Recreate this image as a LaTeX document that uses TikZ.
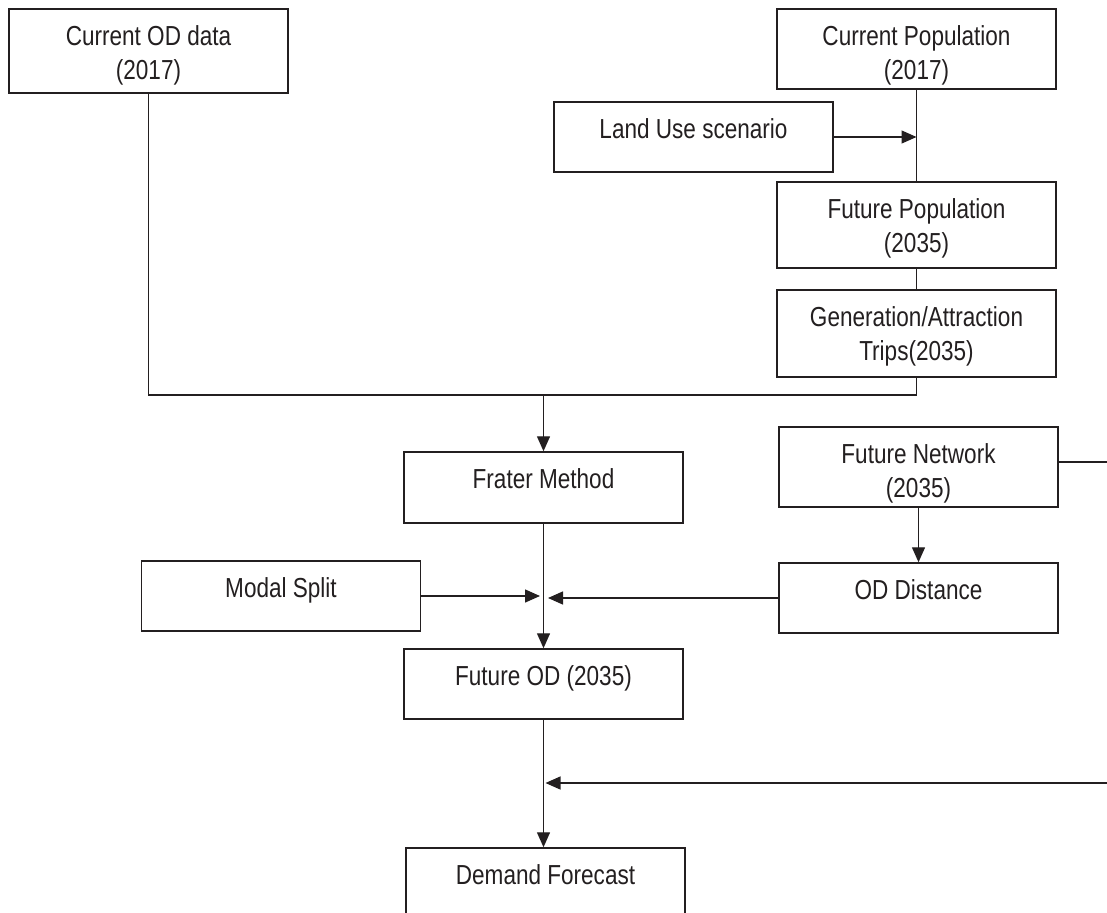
\documentclass[tikz,border=0pt]{standalone}
\usepackage{fontspec}
\setmainfont{Liberation Sans}[FakeStretch=0.82]
\usetikzlibrary{arrows.meta,calc}
\definecolor{ink}{HTML}{231F20}
\begin{document}
\begin{tikzpicture}[x=1pt,y=-1pt,
  box/.style={draw=ink, line width=1.5pt, rectangle, inner sep=0pt, minimum width=279pt},
  txt/.style={anchor=north, inner sep=0pt, align=center, text=ink,
              font=\fontsize{27.5}{34}\selectfont, yshift=-17pt},
  link/.style={draw=ink, line width=1.4pt},
  arr/.style={link, -{Triangle[length=15pt,width=13pt]}}]
\useasboundingbox (0,0) rectangle (1107,912);
\clip (0,0) rectangle (1107,912);

% boxes
\node[box, minimum height=84pt, label={[txt]north:{Current OD data\\(2017)}}] (curOD) at (148.5,51) {};
\node[box, minimum height=80pt, label={[txt]north:{Current Population\\(2017)}}] (curPop) at (916.5,49) {};
\node[box, minimum height=70pt, label={[txt]north:{Land Use scenario}}] (landUse) at (693.5,137) {};
\node[box, minimum height=86pt, label={[txt]north:{Future Population\\(2035)}}] (futPop) at (916.5,225) {};
\node[box, minimum height=87pt, label={[txt]north:{Generation/Attraction\\Trips(2035)}}] (genAttr) at (916.5,333.5) {};
\node[box, minimum height=71pt, label={[txt]north:{Frater Method}}] (frater) at (543.5,487.5) {};
\node[box, minimum height=80pt, label={[txt]north:{Future Network\\(2035)}}] (futNet) at (918.5,467) {};
\node[box, minimum height=70pt, label={[txt]north:{Modal Split}}] (modal) at (281,596) {};
\node[box, minimum height=70pt, label={[txt]north:{OD Distance}}] (odDist) at (918.5,598) {};
\node[box, minimum height=70pt, label={[txt]north:{Future OD (2035)}}] (futOD) at (543.5,684) {};
\node[box, minimum height=71pt, label={[txt]north:{Demand Forecast}}] (demand) at (545.5,883.5) {};

% junction points and free ends
\coordinate (jn) at (543.5,395);
\coordinate (mjL) at (540,597);
\coordinate (mjR) at (548,597);
\coordinate (edgeA) at (1107,462);
\coordinate (edgeB) at (1107,783);

% population chain
\draw[link] (curPop.south) -- (curPop.south |- futPop.north);
\draw[arr] (landUse.east) -- (landUse.east -| curPop.south);
\draw[link] (futPop.south) -- (futPop.south |- genAttr.north);

% merge into the Frater method
\draw[link] (curOD.south) |- (jn) -| (genAttr.south);
\draw[arr] (jn) -- (frater.north);
\draw[arr] (frater.south) -- (futOD.north);

% side inputs
\draw[arr] (modal.east) -- (modal.east -| mjL);
\draw[arr] (odDist.west) -- (odDist.west -| mjR);
\draw[arr] (futNet.south) -- (odDist.north);
\draw[link] ([yshift=5pt]futNet.east) -- (edgeA);

% forecast
\draw[arr] (futOD.south) -- (futOD.south |- demand.north);
\draw[arr] (edgeB) -- ($(edgeB -| futOD.south)+(2,0)$);
\end{tikzpicture}
\end{document}
